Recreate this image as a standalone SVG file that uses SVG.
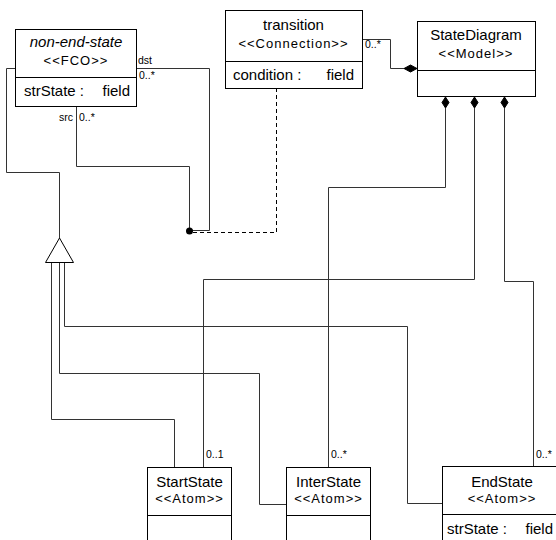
<svg xmlns="http://www.w3.org/2000/svg" width="556" height="540" viewBox="0 0 556 540">
<style>
.box{fill:#fff;stroke:#000;stroke-width:1}
.sep{stroke:#000;stroke-width:1}
.ln{fill:none;stroke:#333;stroke-width:1}
.dash{fill:none;stroke:#000;stroke-width:1;stroke-dasharray:4 3}
.nm{font-family:"Liberation Sans",Arial,sans-serif;font-size:15px;fill:#000;text-anchor:middle}
.it{font-style:italic}
.st{font-family:"Liberation Sans",Arial,sans-serif;font-size:13px;letter-spacing:1px;fill:#000;text-anchor:middle}
.at{font-family:"Liberation Sans",Arial,sans-serif;font-size:15px;fill:#000}
.end{text-anchor:end}
.lb{font-family:"Liberation Sans",Arial,sans-serif;font-size:10.5px;fill:#000}
.dm{fill:#000;stroke:#000;stroke-width:1}
</style>
<rect width="556" height="540" fill="#fff"/>
<g id="connectors">
  <!-- generalization -->
  <path class="ln" d="M15,68.5 H6.5 V172.5 H59.5 V238"/>
  <path class="ln" d="M51.5,262 V419.5 H174.5 V467"/>
  <path class="ln" d="M59.5,262 V373.5 H259.5 V504.5 H286"/>
  <path class="ln" d="M64.5,262 V326.5 H407.5 V503.5 H442"/>
  <polygon points="59.5,238 45.5,262.5 73.5,262.5" fill="#fff" stroke="#000" stroke-width="1"/>
  <!-- transition connection -->
  <path class="ln" d="M76.5,106 V166.5 H189.5 V231"/>
  <path class="ln" d="M136,68.5 H209.5 V230.5 H189.5"/>
  <circle cx="189.5" cy="231" r="3.5" fill="#000"/>
  <path class="dash" d="M193,232.5 H276.5 V88"/>
  <!-- transition to StateDiagram -->
  <path class="ln" d="M362,39.5 H390.5 V68.5 H405"/>
  <polygon class="dm" points="404,68.5 410.5,65 417,68.5 410.5,72"/>
  <!-- compositions -->
  <path class="ln" d="M445.5,108 V187.5 H328.5 V467"/>
  <path class="ln" d="M474.5,108 V279.5 H203.5 V467"/>
  <path class="ln" d="M504.5,108 V281.5 H533.5 V466"/>
  <polygon class="dm" points="445.5,97 449,102.5 445.5,108 442,102.5"/>
  <polygon class="dm" points="474.5,97 478,102.5 474.5,108 471,102.5"/>
  <polygon class="dm" points="504.5,97 508,102.5 504.5,108 501,102.5"/>
  <!-- labels -->
  <text class="lb" x="138" y="64">dst</text>
  <text class="lb" x="139" y="79">0..*</text>
  <text class="lb" x="73" y="121" text-anchor="end">src</text>
  <text class="lb" x="79" y="121">0..*</text>
  <text class="lb" x="365" y="48">0..*</text>
  <text class="lb" x="206" y="458">0..1</text>
  <text class="lb" x="331" y="458">0..*</text>
  <text class="lb" x="536" y="458">0..*</text>
</g>
<g id="non-end-state">
  <rect class="box" x="15.5" y="29.5" width="121" height="77"/>
  <line class="sep" x1="15.5" y1="77.5" x2="136.5" y2="77.5"/>
  <text class="nm it" x="76" y="47">non-end-state</text>
  <text class="st" x="76" y="65">&lt;&lt;FCO&gt;&gt;</text>
  <text class="at" x="24" y="96">strState :</text>
  <text class="at end" x="130" y="96">field</text>
</g>
<g id="transition">
  <rect class="box" x="225.5" y="10.5" width="137" height="78"/>
  <line class="sep" x1="225.5" y1="61.5" x2="362.5" y2="61.5"/>
  <text class="nm" x="293.5" y="30">transition</text>
  <text class="st" x="293.5" y="48">&lt;&lt;Connection&gt;&gt;</text>
  <text class="at" x="233" y="80">condition :</text>
  <text class="at end" x="354" y="80">field</text>
</g>
<g id="StateDiagram">
  <rect class="box" x="417.5" y="21.5" width="118" height="75"/>
  <line class="sep" x1="417.5" y1="70.5" x2="535.5" y2="70.5"/>
  <text class="nm" x="476" y="40">StateDiagram</text>
  <text class="st" x="476" y="58">&lt;&lt;Model&gt;&gt;</text>
</g>
<g id="StartState">
  <rect class="box" x="147.5" y="467.5" width="84" height="80"/>
  <line class="sep" x1="147.5" y1="515.5" x2="231.5" y2="515.5"/>
  <text class="nm" x="189.5" y="487">StartState</text>
  <text class="st" x="189.5" y="503">&lt;&lt;Atom&gt;&gt;</text>
</g>
<g id="InterState">
  <rect class="box" x="286.5" y="467.5" width="84" height="80"/>
  <line class="sep" x1="286.5" y1="515.5" x2="370.5" y2="515.5"/>
  <text class="nm" x="328.5" y="487">InterState</text>
  <text class="st" x="328.5" y="503">&lt;&lt;Atom&gt;&gt;</text>
</g>
<g id="EndState">
  <rect class="box" x="442.5" y="466.5" width="120" height="80"/>
  <line class="sep" x1="442.5" y1="514.5" x2="562.5" y2="514.5"/>
  <text class="nm" x="502" y="487">EndState</text>
  <text class="st" x="502" y="503">&lt;&lt;Atom&gt;&gt;</text>
  <text class="at" x="447" y="534">strState :</text>
  <text class="at end" x="553" y="534">field</text>
</g>
</svg>
